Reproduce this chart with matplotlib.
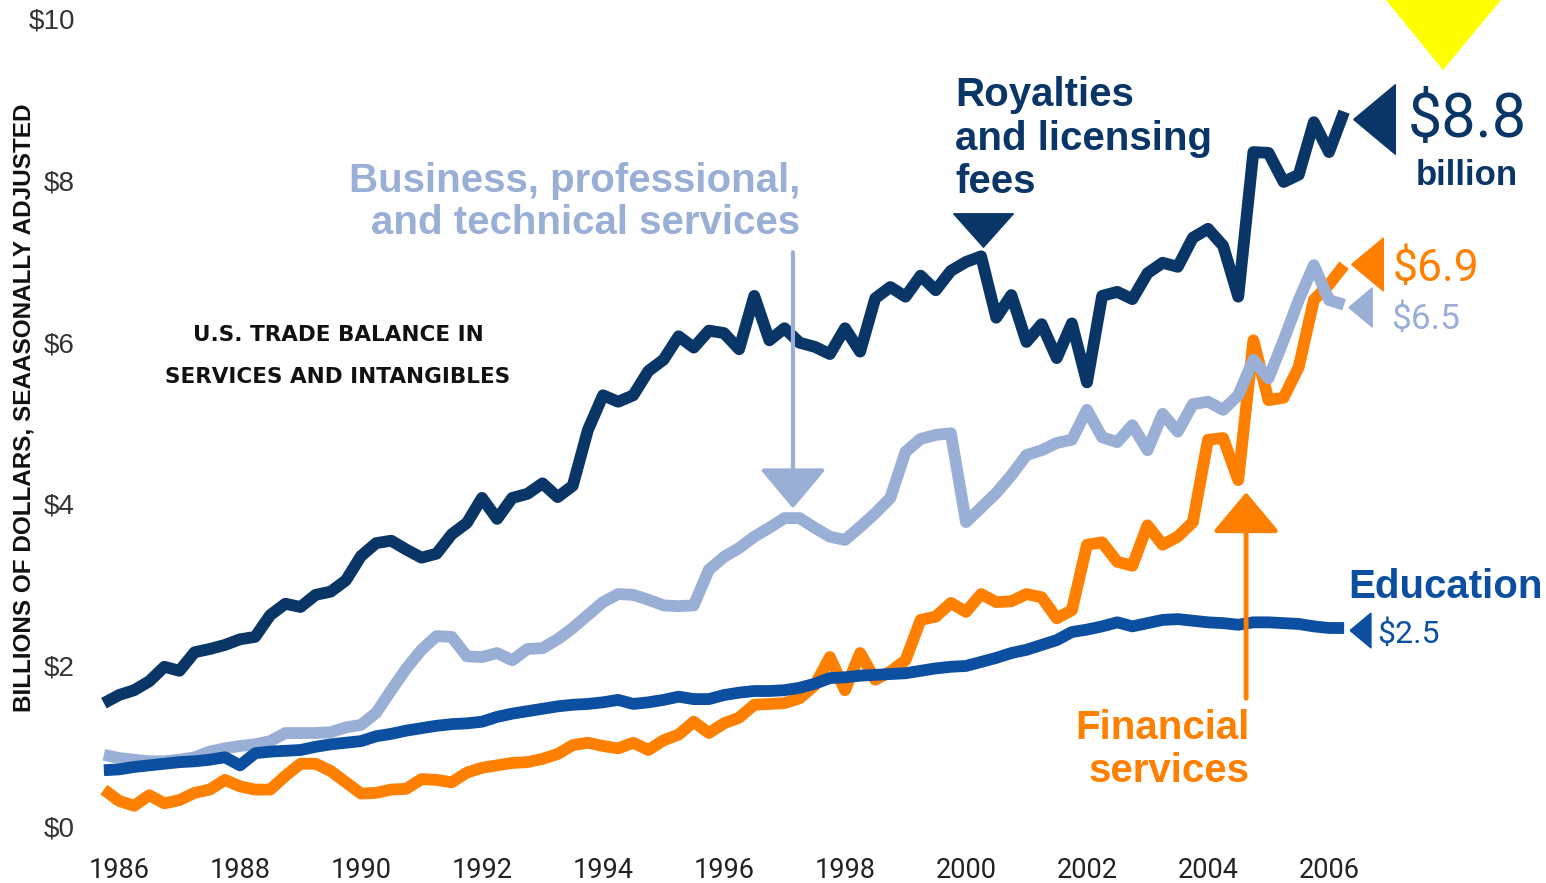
import matplotlib
matplotlib.use("Agg")
import matplotlib.pyplot as plt
import numpy as np
from matplotlib.patches import Polygon

# quarterly trade balance, billions of dollars (first quarter shown = late 1985)
start_year = 1985.75

royalties = [1.57, 1.67, 1.73, 1.84, 2.02, 1.97, 2.20, 2.24, 2.29, 2.36,
             2.39, 2.66, 2.80, 2.76, 2.91, 2.95, 3.09, 3.39, 3.55, 3.58,
             3.47, 3.37, 3.42, 3.66, 3.80, 4.11, 3.85, 4.11, 4.16, 4.29,
             4.12, 4.26, 4.95, 5.38, 5.30, 5.38, 5.68, 5.82, 6.11, 5.97,
             6.18, 6.15, 5.95, 6.61, 6.06, 6.21, 6.03, 5.98, 5.89, 6.21,
             5.92, 6.58, 6.72, 6.60, 6.86, 6.68, 6.92, 7.03, 7.10, 6.34,
             6.62, 6.04, 6.26, 5.84, 6.27, 5.54, 6.61, 6.66, 6.57, 6.89,
             7.02, 6.97, 7.33, 7.44, 7.23, 6.60, 8.39, 8.38, 8.02, 8.11,
             8.76, 8.39, 8.89]

business = [0.93, 0.89, 0.87, 0.85, 0.85, 0.87, 0.90, 0.97, 1.01, 1.04,
            1.06, 1.10, 1.20, 1.20, 1.20, 1.21, 1.27, 1.30, 1.45, 1.73,
            2.00, 2.23, 2.40, 2.39, 2.15, 2.14, 2.19, 2.10, 2.24, 2.25,
            2.36, 2.50, 2.66, 2.82, 2.92, 2.91, 2.85, 2.78, 2.77, 2.78,
            3.22, 3.38, 3.49, 3.63, 3.74, 3.86, 3.86, 3.74, 3.63, 3.59,
            3.75, 3.92, 4.11, 4.68, 4.84, 4.89, 4.91, 3.81, 3.99, 4.17,
            4.39, 4.64, 4.70, 4.79, 4.83, 5.20, 4.86, 4.80, 5.01, 4.70,
            5.15, 4.93, 5.27, 5.30, 5.20, 5.38, 5.82, 5.59, 6.06, 6.56,
            6.99, 6.56, 6.50]

financial = [0.50, 0.36, 0.30, 0.43, 0.33, 0.37, 0.46, 0.50, 0.62, 0.54,
             0.50, 0.50, 0.67, 0.82, 0.82, 0.73, 0.59, 0.45, 0.46, 0.50,
             0.51, 0.63, 0.62, 0.59, 0.71, 0.77, 0.80, 0.83, 0.84, 0.88,
             0.94, 1.05, 1.08, 1.04, 1.01, 1.08, 0.99, 1.11, 1.18, 1.34,
             1.20, 1.32, 1.39, 1.55, 1.56, 1.57, 1.63, 1.79, 2.14, 1.73,
             2.19, 1.86, 1.96, 2.10, 2.60, 2.64, 2.81, 2.70, 2.92, 2.82,
             2.83, 2.92, 2.88, 2.62, 2.72, 3.53, 3.56, 3.32, 3.27, 3.77,
             3.53, 3.63, 3.81, 4.83, 4.85, 4.33, 6.06, 5.32, 5.35, 5.73,
             6.56, 6.75, 6.99]

education = [0.74, 0.75, 0.78, 0.80, 0.82, 0.84, 0.85, 0.87, 0.90, 0.80,
             0.95, 0.97, 0.98, 0.99, 1.03, 1.06, 1.08, 1.10, 1.16, 1.19,
             1.23, 1.26, 1.29, 1.31, 1.32, 1.34, 1.40, 1.44, 1.47, 1.50,
             1.53, 1.55, 1.56, 1.58, 1.61, 1.56, 1.58, 1.61, 1.65, 1.62,
             1.62, 1.67, 1.70, 1.72, 1.72, 1.73, 1.76, 1.81, 1.88, 1.89,
             1.91, 1.92, 1.93, 1.94, 1.97, 2.00, 2.02, 2.03, 2.08, 2.13,
             2.19, 2.23, 2.29, 2.35, 2.45, 2.48, 2.52, 2.57, 2.52, 2.56,
             2.60, 2.61, 2.59, 2.57, 2.56, 2.54, 2.57, 2.57, 2.56, 2.55,
             2.52, 2.50, 2.50]

year_ticks = [1986, 1988, 1990, 1992, 1994, 1996, 1998, 2000, 2002, 2004, 2006]
dollar_ticks = [0, 2, 4, 6, 8, 10]
end_values = [8.8, 6.9, 6.5, 2.5]          # royalties, financial, business, education
end_labels = ['$8.8', '$6.9', '$6.5', '$2.5']

#colors
navy = '#0a3667'
light = '#9aafd5'
orange = '#ff8000'
edu_blue = '#0c4fa0'

narrow = ['Roboto', 'DejaVu Sans']
bold = ['Liberation Sans', 'DejaVu Sans']

W, H = 1546, 883
def fx(px):
    return px / W
def fy(py):
    return 1 - py / H

fig = plt.figure(figsize=(W / 100, H / 100), dpi=100)
ax = fig.add_axes([0, 0, 1, 1])
ax.set_xlim(1984.033, 2009.587)
ax.set_ylim(-0.656, 10.272)
ax.axis('off')

quarters = start_year + 0.25 * np.arange(len(royalties))

#the four series
line_kw = dict(lw=8.5, solid_joinstyle='round', solid_capstyle='butt')
ax.plot(quarters, financial, color=orange, zorder=2, **line_kw)
ax.plot(quarters, business, color=light, zorder=3, **line_kw)
ax.plot(quarters, education, color=edu_blue, zorder=4, **line_kw)
ax.plot(quarters, royalties, color=navy, zorder=5, **line_kw)

#tick labels
for yr in year_ticks:
    ax.text(yr, fy(878), str(yr), transform=ax.get_xaxis_transform(), ha='center',
            va='baseline', fontsize=19.5, color='#222222', family=narrow)
for d in dollar_ticks:
    ax.text(fx(75), d, '${}'.format(d), transform=ax.get_yaxis_transform(), ha='right',
            va='center', fontsize=20, color='#333333', family=bold)

fig.text(fx(24), fy(408), 'BILLIONS OF DOLLARS, SEAASONALLY ADJUSTED', rotation=90,
         ha='center', va='center', fontsize=17.5, weight='bold', color='#111111', family=bold)

#chart title
fig.text(fx(338), fy(341), 'U.S. TRADE BALANCE IN', ha='center', va='baseline',
         fontsize=15.5, weight='bold', color='#111111', family='DejaVu Sans')
fig.text(fx(338), fy(383), 'SERVICES AND INTANGIBLES', ha='center', va='baseline',
         fontsize=15.5, weight='bold', color='#111111', family='DejaVu Sans')

#series callouts
call_kw = dict(fontsize=29, weight='bold', family=bold, va='baseline')
fig.text(fx(800), fy(192), 'Business, professional,', ha='right', color=light, **call_kw)
fig.text(fx(800), fy(234), 'and technical services', ha='right', color=light, **call_kw)
fig.text(fx(955), fy(106), 'Royalties', ha='left', color=navy, **call_kw)
fig.text(fx(955), fy(150), 'and licensing', ha='left', color=navy, **call_kw)
fig.text(fx(955), fy(193), 'fees', ha='left', color=navy, **call_kw)
fig.text(fx(1250), fy(739), 'Financial', ha='right', color=orange, **call_kw)
fig.text(fx(1250), fy(782), 'services', ha='right', color=orange, **call_kw)
fig.text(fx(1348), fy(598), 'Education', ha='left', color=edu_blue, **call_kw)

#arrows pointing to the series
ax.annotate('', xy=(1997.14, 3.98), xytext=(1997.14, 7.15),
            arrowprops=dict(arrowstyle='-|>,head_length=25,head_width=21', mutation_scale=1,
                            color=light, lw=3, shrinkA=0, shrinkB=0), zorder=6)
ax.annotate('', xy=(2004.63, 4.18), xytext=(2004.63, 1.63),
            arrowprops=dict(arrowstyle='-|>,head_length=25,head_width=21', mutation_scale=1,
                            color=orange, lw=3.5, shrinkA=0, shrinkB=0), zorder=6)
down_tri = [(-0.5, 0.28), (0.5, 0.28), (0, -0.28), (-0.5, 0.28)]
ax.plot([2000.28], [7.42], marker=down_tri, markersize=43, color=navy, lw=0, zorder=6)

#end-of-line markers and values
left_tri = [(-0.3, 0), (0.3, 0.5), (0.3, -0.5), (-0.3, 0)]
last_x = quarters[-1]
ax.plot([last_x + 0.49], [end_values[0]], marker=left_tri, markersize=50, color=navy, lw=0)
ax.plot([last_x + 0.38], [end_values[1] + 0.11], marker=left_tri, markersize=38, color=orange, lw=0)
ax.plot([last_x + 0.26], [end_values[2] - 0.03], marker=left_tri, markersize=28, color=light, lw=0)
ax.plot([last_x + 0.27], [end_values[3] - 0.02], marker=left_tri, markersize=25, color=edu_blue, lw=0)

fig.text(fx(1408), fy(137), end_labels[0], ha='left', va='baseline', fontsize=44,
         color=navy, family=narrow)
fig.text(fx(1467), fy(185), 'billion', ha='center', va='baseline', fontsize=25,
         weight='bold', color=navy, family=bold)
fig.text(fx(1393), fy(281), end_labels[1], ha='left', va='baseline', fontsize=32,
         color=orange, family=narrow)
fig.text(fx(1391), fy(329), end_labels[2], ha='left', va='baseline', fontsize=25.5,
         color=light, family=narrow)
fig.text(fx(1377), fy(643), end_labels[3], ha='left', va='baseline', fontsize=23,
         color=edu_blue, family=narrow)

#yellow marker at top right
fig.patches.append(Polygon([(fx(1381), fy(-6)), (fx(1506), fy(-6)), (fx(1443), fy(70))],
                           closed=True, transform=fig.transFigure, facecolor='#ffff00',
                           edgecolor='none'))

plt.savefig('out.png', dpi=100)
